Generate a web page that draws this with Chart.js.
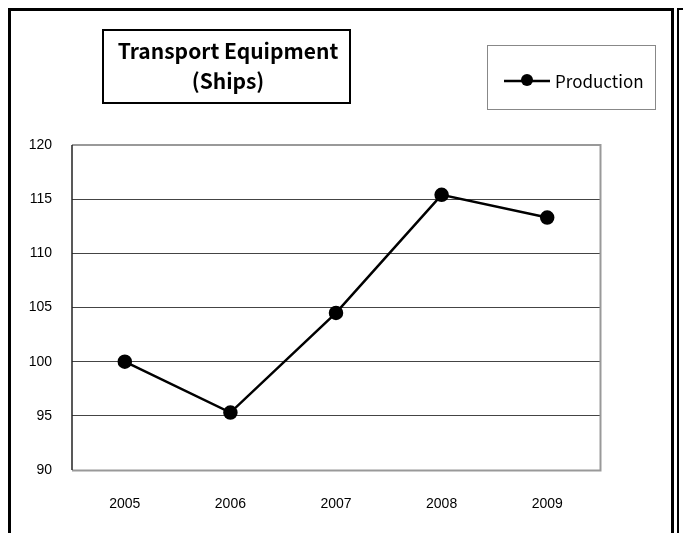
<!DOCTYPE html>
<html>
<head>
<meta charset="utf-8">
<script src="https://cdn.jsdelivr.net/npm/chart.js@4"></script>
<style>
  html, body { margin: 0; padding: 0; background: #fff; }
  #wrap { width: 683px; height: 533px; }
</style>
</head>
<body>
<div id="wrap"><canvas id="chart" width="683" height="533"></canvas></div>
<script>
const years = ['2005', '2006', '2007', '2008', '2009'];
const production = [100, 95.3, 104.5, 115.4, 113.3];
const titleLines = ['Transport Equipment', '(Ships)'];
const seriesName = 'Production';

// cadre, titre et légende dessinés à la main
const decor = {
  id: 'decor',
  afterDraw(chart) {
    const ctx = chart.ctx;
    const a = chart.chartArea;
    ctx.save();

    // cadre du graphique (gauche foncé, haut/droite/bas gris)
    ctx.lineWidth = 2;
    ctx.strokeStyle = '#999';
    ctx.beginPath();
    ctx.moveTo(a.left, a.top);
    ctx.lineTo(a.right + 0.5, a.top);
    ctx.lineTo(a.right + 0.5, a.bottom + 0.5);
    ctx.lineTo(a.left, a.bottom + 0.5);
    ctx.stroke();
    ctx.lineWidth = 1.5;
    ctx.strokeStyle = '#222';
    ctx.beginPath();
    ctx.moveTo(a.left, a.bottom);
    ctx.lineTo(a.left, a.top);
    ctx.stroke();

    // bordures extérieures
    ctx.strokeStyle = '#000';
    ctx.lineWidth = 3;
    ctx.strokeRect(9.5, 9.5, 663, 540);
    ctx.lineWidth = 2;
    ctx.strokeRect(678, 9, 40, 540);

    // titre
    ctx.lineWidth = 2;
    ctx.fillStyle = '#fff';
    ctx.fillRect(103, 30, 247, 73);
    ctx.strokeRect(103, 30, 247, 73);
    ctx.fillStyle = '#000';
    ctx.font = '700 21px "Noto Sans CJK JP"';
    ctx.textAlign = 'center';
    ctx.textBaseline = 'middle';
    ctx.fillText(titleLines[0], 228, 51);
    ctx.fillText(titleLines[1], 228, 81);

    // légende
    const ds = chart.data.datasets[0];
    ctx.lineWidth = 1;
    ctx.strokeStyle = '#888';
    ctx.strokeRect(487.5, 45.5, 168, 64);
    ctx.strokeStyle = ds.borderColor;
    ctx.lineWidth = ds.borderWidth;
    ctx.beginPath();
    ctx.moveTo(504, 81);
    ctx.lineTo(550, 81);
    ctx.stroke();
    ctx.fillStyle = ds.pointBackgroundColor;
    ctx.beginPath();
    ctx.arc(527, 80, ds.pointRadius, 0, Math.PI * 2);
    ctx.fill();
    ctx.fillStyle = '#000';
    ctx.font = '17px "Noto Sans CJK JP"';
    ctx.textAlign = 'left';
    ctx.fillText(seriesName, 555, 82);

    ctx.restore();
  }
};

new Chart(document.getElementById('chart'), {
  type: 'line',
  data: {
    labels: years,
    datasets: [{
      label: seriesName,
      data: production,
      borderColor: '#000',
      borderWidth: 2.5,
      pointRadius: 6,
      pointBackgroundColor: '#000',
      pointBorderColor: '#000',
      tension: 0
    }]
  },
  options: {
    responsive: false,
    animation: false,
    layout: { padding: { top: 145, right: 83, left: 0, bottom: 0 } },
    plugins: {
      legend: { display: false },
      title: { display: false },
      tooltip: { enabled: false }
    },
    scales: {
      x: {
        offset: true,
        grid: { display: false, drawTicks: false },
        border: { display: false },
        ticks: {
          color: '#000',
          font: { family: 'Liberation Sans', size: 14 },
          padding: 26
        },
        afterFit(scale) { scale.height = 63; }
      },
      y: {
        min: 90,
        max: 120,
        grid: { color: '#444', lineWidth: 1, drawTicks: false },
        border: { display: false },
        ticks: {
          stepSize: 5,
          color: '#000',
          font: { family: 'Liberation Sans', size: 14 },
          padding: 20
        },
        afterFit(scale) { scale.width = 72; }
      }
    }
  },
  plugins: [decor]
});
</script>
</body>
</html>
